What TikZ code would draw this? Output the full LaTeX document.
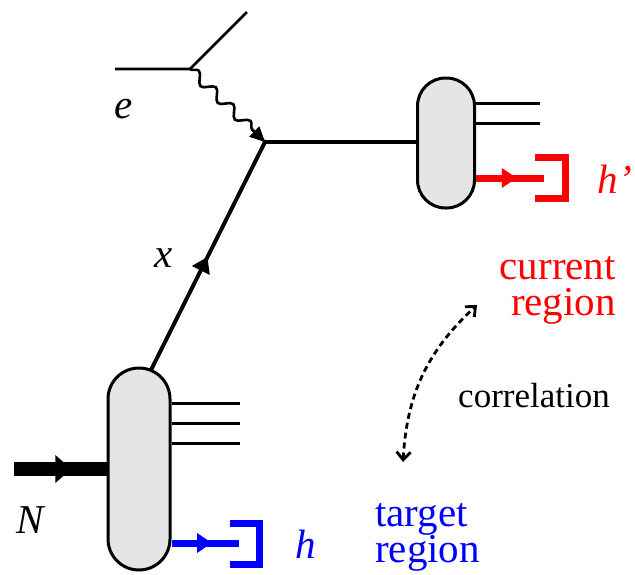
\documentclass[tikz,border=0pt]{standalone}
\usepackage{fontspec}
\setmainfont{Liberation Serif}
\usetikzlibrary{arrows.meta, positioning, calc, decorations.pathmorphing, decorations.markings}

\begin{document}
\begin{tikzpicture}[
    x=1pt, y=-1pt,
    blob/.style={
      rectangle, draw=black, fill=black!10, line width=3pt, inner sep=0pt
    },
    lep/.style={line width=2.6pt},
    jet/.style={line width=3pt},
    quark/.style={line width=4pt},
    midarr/.style={postaction={decorate}, decoration={markings,
        mark=at position #1 with {\arrow{Triangle[length=15pt, width=19pt]}}}},
    hadarr/.style={line width=7pt, midarr=0.6},
    bracket/.style={line width=7pt, line join=miter},
    lbl/.style={font=\fontsize{41}{41}\selectfont\itshape, anchor=base, inner sep=0pt},
    region/.style={font=\fontsize{41}{36}\selectfont, inner sep=0pt}
  ]
    \useasboundingbox (0,0) rectangle (635,574);

    % lepton vertex and photon
    \coordinate (ein) at (115,69);
    \coordinate (ev) at (190,69);
    \coordinate (eout) at (247,12);
    \coordinate (qv) at (265,142);
    \draw[lep] (ein) -- (ev) -- (eout);
    \draw[lep, decorate, decoration={snake, amplitude=5pt, segment length=24pt, post length=12pt}]
      (ev) -- (qv);
    \draw[lep, -{Triangle[length=15pt, width=14pt]}] ($(ev)!0.82!(qv)$) -- (qv);

    % struck quark
    \coordinate (qstart) at (150,372);
    \draw[quark, midarr=0.5] (qstart) -- (qv);

    % blobs
    \node[blob, minimum width=62pt, minimum height=202pt, rounded corners=31pt] (hadB) at (139,469) {};
    \node[blob, minimum width=57pt, minimum height=130pt, rounded corners=28pt] (hadT) at (446,143) {};
    \draw[quark] (qv) -- (hadT.west |- qv);

    % remnant and jet lines
    \foreach \yy in {403,423,443}
      \draw[jet] (hadB.east |- 0,\yy) -- (240,\yy);
    \foreach \yy in {103,123}
      \draw[jet] (hadT.east |- 0,\yy) -- (540,\yy);

    % incoming nucleon
    \coordinate (nin) at (14,469);
    \draw[line width=14pt, postaction={decorate}, decoration={markings,
        mark=at position 0.62 with {\arrow{Triangle[length=16pt, width=27pt]}}}]
      (nin) -- (hadB.west);

    % observed hadrons
    \draw[hadarr, red] (hadT.east |- 0,178) -- (544,178);
    \draw[bracket, red] (535,157.5) -- (565,157.5) -- (565,198.5) -- (535,198.5);
    \draw[hadarr, blue] (hadB.east |- 0,543) -- (239,543);
    \draw[bracket, blue] (230,523.5) -- (259,523.5) -- (259,564) -- (230,564);

    % labels
    \node[lbl] (le) at (124,118) {e};
    \node[lbl] (lx) at (164,267) {x};
    \node[lbl] (lN) at (30,533) {N};
    \node[lbl, blue] (lh) at (306,558) {h};
    \node[lbl, red] (lhp) at (615,193) {h’};
    \node[region, red, align=right, anchor=base east] (cur) at (616,315) {current\\region};
    \node[region, blue, align=left, anchor=base west] (tar) at (375,562) {target\\region};
    \node[font=\fontsize{35}{35}\selectfont] (corr) at (534,396) {correlation};

    % correlation arrow
    \coordinate (cA) at (403,462);
    \coordinate (cB) at (477,305);
    \draw[line width=2.8pt, dash pattern=on 6pt off 4pt,
      {Straight Barb[length=8pt, width=14pt]}-{Straight Barb[length=8pt, width=14pt]}]
      (cA) to[bend left=22] (cB);
  \end{tikzpicture}
\end{document}
